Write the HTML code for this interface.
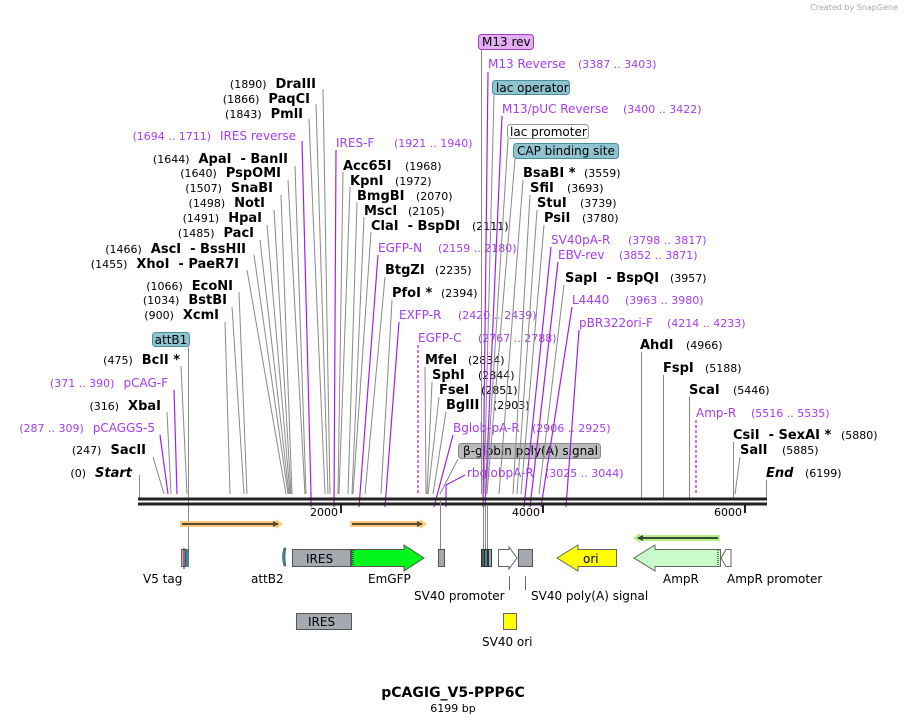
<!DOCTYPE html>
<html><head><meta charset="utf-8"><style>
body{margin:0;background:#fff}
svg{display:block;font-family:"DejaVu Sans","Liberation Sans",sans-serif}
.n{font-size:11px;fill:#000}
.b{font-size:13px;font-weight:bold;fill:#000}
.p{font-size:12px;fill:#a83cf0}
.pn{font-size:11px;fill:#a83cf0}
.g{stroke:#8a8a8a;stroke-width:1;fill:none}
.v{stroke:#a020f0;stroke-width:1.2;fill:none}
.f{font-size:12px;fill:#000}
</style></head><body>
<svg width="905" height="724" viewBox="0 0 905 724">
<text x="898" y="10" text-anchor="end" style="font-size:8px;fill:#aaa">Created by SnapGene</text>

<g>
<text x="316" y="88" text-anchor="end"><tspan class="n">(1890)</tspan><tspan class="b" dx="9">DraIII</tspan></text>
<line class="g" x1="323" y1="89" x2="330" y2="494"/>
<text x="310" y="103" text-anchor="end"><tspan class="n">(1866)</tspan><tspan class="b" dx="9">PaqCI</tspan></text>
<line class="g" x1="316" y1="104" x2="328" y2="494"/>
<text x="303" y="118" text-anchor="end"><tspan class="n">(1843)</tspan><tspan class="b" dx="9">PmlI</tspan></text>
<line class="g" x1="309" y1="119" x2="325" y2="494"/>
<text x="296" y="140" text-anchor="end"><tspan class="pn">(1694 .. 1711)</tspan><tspan class="p" dx="9">IRES reverse</tspan></text>
<line class="v" x1="302" y1="141" x2="311" y2="494"/><line class="v" x1="311" y1="494" x2="311" y2="507"/>
<text x="288" y="163" text-anchor="end"><tspan class="n">(1644)</tspan><tspan class="b" dx="9">ApaI</tspan><tspan class="b" dx="9">- BanII</tspan></text>
<line class="g" x1="295" y1="166" x2="306" y2="494"/>
<text x="281" y="177" text-anchor="end"><tspan class="n">(1640)</tspan><tspan class="b" dx="9">PspOMI</tspan></text>
<line class="g" x1="288" y1="180" x2="305" y2="494"/>
<text x="273" y="192" text-anchor="end"><tspan class="n">(1507)</tspan><tspan class="b" dx="9">SnaBI</tspan></text>
<line class="g" x1="281" y1="195" x2="292" y2="494"/>
<text x="265" y="207" text-anchor="end"><tspan class="n">(1498)</tspan><tspan class="b" dx="9">NotI</tspan></text>
<line class="g" x1="274" y1="210" x2="291" y2="494"/>
<text x="262" y="222" text-anchor="end"><tspan class="n">(1491)</tspan><tspan class="b" dx="9">HpaI</tspan></text>
<line class="g" x1="267" y1="225" x2="290" y2="494"/>
<text x="254" y="237" text-anchor="end"><tspan class="n">(1485)</tspan><tspan class="b" dx="9">PacI</tspan></text>
<line class="g" x1="260" y1="240" x2="289" y2="494"/>
<text x="246" y="253" text-anchor="end"><tspan class="n">(1466)</tspan><tspan class="b" dx="9">AscI</tspan><tspan class="b" dx="9">- BssHII</tspan></text>
<line class="g" x1="254" y1="255" x2="288" y2="494"/>
<text x="239" y="268" text-anchor="end"><tspan class="n">(1455)</tspan><tspan class="b" dx="9">XhoI</tspan><tspan class="b" dx="9">- PaeR7I</tspan></text>
<line class="g" x1="247" y1="270" x2="286" y2="494"/>
<text x="233" y="290" text-anchor="end"><tspan class="n">(1066)</tspan><tspan class="b" dx="9">EcoNI</tspan></text>
<line class="g" x1="239" y1="292" x2="247" y2="494"/>
<text x="227" y="304" text-anchor="end"><tspan class="n">(1034)</tspan><tspan class="b" dx="9">BstBI</tspan></text>
<line class="g" x1="232" y1="307" x2="244" y2="494"/>
<text x="219" y="319" text-anchor="end"><tspan class="n">(900)</tspan><tspan class="b" dx="9">XcmI</tspan></text>
<line class="g" x1="225" y1="322" x2="230" y2="494"/>
<rect x="152.5" y="332.5" width="37" height="14" rx="3" fill="#8fc3cf" stroke="#4a8fa0"/>
<text x="171" y="344" text-anchor="middle" class="f">attB1</text>
<line class="g" x1="188.5" y1="347" x2="188.5" y2="553" stroke="#666"/>
<text x="180" y="364" text-anchor="end"><tspan class="n">(475)</tspan><tspan class="b" dx="9">BclI *</tspan></text>
<line class="g" x1="181" y1="366" x2="187" y2="494"/>
<text x="168" y="387" text-anchor="end"><tspan class="pn">(371 .. 390)</tspan><tspan class="p" dx="9">pCAG-F</tspan></text>
<line class="v" x1="174" y1="390" x2="177" y2="494"/>
<text x="161" y="410" text-anchor="end"><tspan class="n">(316)</tspan><tspan class="b" dx="9">XbaI</tspan></text>
<line class="g" x1="167" y1="412" x2="171" y2="494"/>
<text x="155" y="432" text-anchor="end"><tspan class="pn">(287 .. 309)</tspan><tspan class="p" dx="9">pCAGGS-5</tspan></text>
<line class="v" x1="160" y1="435" x2="168" y2="494"/>
<text x="146" y="454" text-anchor="end"><tspan class="n">(247)</tspan><tspan class="b" dx="9">SacII</tspan></text>
<line class="g" x1="153" y1="457" x2="164" y2="494"/>
<text x="132" y="477" text-anchor="end"><tspan class="n">(0)</tspan><tspan class="b" dx="9" font-style="italic">Start</tspan></text>
<line class="g" x1="139.5" y1="475" x2="139.5" y2="498"/>
</g>

<g>
<text x="336" y="147" class="p">IRES-F</text><text x="394" y="147" class="pn">(1921 .. 1940)</text>
<line class="v" x1="336" y1="150" x2="334" y2="507"/>
<text x="343" y="170" class="b">Acc65I</text><text x="405" y="170" class="n">(1968)</text>
<line class="g" x1="343" y1="172" x2="338" y2="494"/>
<text x="350" y="185" class="b">KpnI</text><text x="395" y="185" class="n">(1972)</text>
<line class="g" x1="350" y1="187" x2="339" y2="494"/>
<text x="357" y="200" class="b">BmgBI</text><text x="416" y="200" class="n">(2070)</text>
<line class="g" x1="357" y1="202" x2="348" y2="494"/>
<text x="364" y="215" class="b">MscI</text><text x="408" y="215" class="n">(2105)</text>
<line class="g" x1="364" y1="217" x2="352" y2="494"/>
<text x="371" y="230" class="b">ClaI<tspan dx="9">- BspDI</tspan></text><text x="472" y="230" class="n">(2111)</text>
<line class="g" x1="371" y1="232" x2="353" y2="494"/>
<text x="378" y="252" class="p">EGFP-N</text><text x="438" y="252" class="pn">(2159 .. 2180)</text>
<line class="v" x1="378" y1="255" x2="359" y2="507"/>
<text x="385" y="274" class="b">BtgZI</text><text x="435" y="274" class="n">(2235)</text>
<line class="g" x1="385" y1="277" x2="365" y2="494"/>
<text x="392" y="297" class="b">PfoI *</text><text x="441" y="297" class="n">(2394)</text>
<line class="g" x1="392" y1="300" x2="381" y2="494"/>
<text x="399" y="319" class="p">EXFP-R</text><text x="458" y="319" class="pn">(2420 .. 2439)</text>
<line class="v" x1="399" y1="322" x2="385" y2="507"/>
<text x="418" y="342" class="p">EGFP-C</text><text x="478" y="342" class="pn">(2767 .. 2788)</text>
<line class="v" x1="418" y1="345" x2="418" y2="494" stroke-dasharray="3,2"/>
<text x="425" y="364" class="b">MfeI</text><text x="468" y="364" class="n">(2834)</text>
<line class="g" x1="425" y1="367" x2="426" y2="494"/>
<text x="432" y="379" class="b">SphI</text><text x="478" y="379" class="n">(2844)</text>
<line class="g" x1="432" y1="382" x2="427" y2="494"/>
<text x="439" y="394" class="b">FseI</text><text x="481" y="394" class="n">(2851)</text>
<line class="g" x1="439" y1="397" x2="428" y2="494"/>
<text x="446" y="409" class="b">BglII</text><text x="493" y="409" class="n">(2903)</text>
<line class="g" x1="446" y1="412" x2="433" y2="494"/>
<text x="453" y="432" class="p">Bglob-pA-R</text><text x="532" y="432" class="pn">(2906 .. 2925)</text>
<line class="v" x1="453" y1="435" x2="434" y2="507"/>
<rect x="458.5" y="443.5" width="142" height="15" rx="3" fill="#bbbbbb" stroke="#888"/>
<text x="463" y="455" class="f">β-globin poly(A) signal</text>
<line class="g" x1="458" y1="459" x2="440" y2="494"/>
<text x="467" y="477" class="p">rbglobpA-R</text><text x="545" y="477" class="pn">(3025 .. 3044)</text>
<line class="v" x1="465" y1="475" x2="446" y2="485"/><line class="v" x1="446" y1="485" x2="446" y2="507"/>

<rect x="478.5" y="34.5" width="55" height="15" rx="3" fill="#e3aef3" stroke="#a040c0"/>
<text x="482" y="46" class="f">M13 rev</text>
<line class="g" x1="481.5" y1="50" x2="481.5" y2="494"/>
<text x="488" y="68" class="p">M13 Reverse</text><text x="578" y="68" class="pn">(3387 .. 3403)</text>
<line class="v" x1="488" y1="72" x2="483" y2="507"/>
<rect x="492.5" y="80.5" width="77" height="14" rx="3" fill="#8fc3cf" stroke="#4a8fa0"/>
<text x="496" y="92" class="f">lac operator</text>
<line class="g" x1="494" y1="95" x2="484" y2="494"/>
<text x="502" y="113" class="p">M13/pUC Reverse</text><text x="623" y="113" class="pn">(3400 .. 3422)</text>
<line class="v" x1="502" y1="116" x2="485" y2="507"/>
<rect x="507.5" y="124.5" width="81" height="14" rx="3" fill="#fff" stroke="#999"/>
<text x="510" y="136" class="f">lac promoter</text>
<line class="g" x1="508" y1="139" x2="486" y2="494"/>
<rect x="513.5" y="143.5" width="105" height="15" rx="3" fill="#8fc3cf" stroke="#4a8fa0"/>
<text x="517" y="155" class="f">CAP binding site</text>
<line class="g" x1="515" y1="159" x2="487" y2="494"/>
<text x="523" y="177" class="b">BsaBI *</text><text x="584" y="177" class="n">(3559)</text>
<line class="g" x1="523" y1="180" x2="499" y2="494"/>
<text x="530" y="192" class="b">SfiI</text><text x="567" y="192" class="n">(3693)</text>
<line class="g" x1="530" y1="195" x2="513" y2="494"/>
<text x="537" y="207" class="b">StuI</text><text x="580" y="207" class="n">(3739)</text>
<line class="g" x1="537" y1="210" x2="517" y2="494"/>
<text x="544" y="222" class="b">PsiI</text><text x="582" y="222" class="n">(3780)</text>
<line class="g" x1="544" y1="225" x2="521" y2="494"/>
<text x="551" y="244" class="p">SV40pA-R</text><text x="628" y="244" class="pn">(3798 .. 3817)</text>
<line class="v" x1="551" y1="247" x2="524" y2="507"/>
<text x="558" y="259" class="p">EBV-rev</text><text x="619" y="259" class="pn">(3852 .. 3871)</text>
<line class="v" x1="558" y1="262" x2="530" y2="507"/>
<text x="565" y="282" class="b">SapI<tspan dx="9">- BspQI</tspan></text><text x="670" y="282" class="n">(3957)</text>
<line class="g" x1="564" y1="285" x2="539" y2="494"/>
<text x="572" y="304" class="p">L4440</text><text x="625" y="304" class="pn">(3963 .. 3980)</text>
<line class="v" x1="572" y1="307" x2="541" y2="507"/>
<text x="579" y="327" class="p">pBR322ori-F</text><text x="667" y="327" class="pn">(4214 .. 4233)</text>
<line class="v" x1="579" y1="330" x2="566" y2="507"/>
<text x="640" y="349" class="b">AhdI</text><text x="686" y="349" class="n">(4966)</text>
<line class="g" x1="641.5" y1="352" x2="641.5" y2="498"/>
<text x="663" y="372" class="b">FspI</text><text x="705" y="372" class="n">(5188)</text>
<line class="g" x1="663.5" y1="375" x2="663.5" y2="498"/>
<text x="689" y="394" class="b">ScaI</text><text x="733" y="394" class="n">(5446)</text>
<line class="g" x1="689.5" y1="397" x2="689.5" y2="498"/>
<text x="696" y="417" class="p">Amp-R</text><text x="751" y="417" class="pn">(5516 .. 5535)</text>
<line class="v" x1="696" y1="420" x2="696" y2="494" stroke-dasharray="3,2"/>
<text x="733" y="439" class="b">CsiI<tspan dx="9">- SexAI *</tspan></text><text x="841" y="439" class="n">(5880)</text>
<line class="g" x1="733.5" y1="442" x2="733.5" y2="498"/>
<text x="740" y="454" class="b">SalI</text><text x="782" y="454" class="n">(5885)</text>
<line class="g" x1="740" y1="457" x2="735" y2="494"/>
<text x="766" y="477" class="b" font-style="italic">End</text><text x="805" y="477" class="n">(6199)</text>
<line class="g" x1="766.5" y1="480" x2="766.5" y2="498"/>
</g>

<rect x="138" y="497.5" width="629" height="3" fill="#222"/>
<rect x="138" y="502.5" width="629" height="3" fill="#222"/>
<rect x="340" y="505" width="2" height="8" fill="#222"/>
<rect x="542" y="505" width="2" height="8" fill="#222"/>
<rect x="744" y="505" width="2" height="8" fill="#222"/>
<text x="310" y="516" class="n">2000</text>
<text x="512" y="516" class="n">4000</text>
<text x="714" y="516" class="n">6000</text>

<rect x="180" y="521" width="98" height="6" fill="#fcc97a"/>
<path d="M276 519 L283 524 L276 529Z" fill="#fcc97a"/>
<line x1="182" y1="524" x2="278" y2="524" stroke="#5a4a30" stroke-width="2"/>
<path d="M273 521 L279 524 L273 527Z" fill="#5a4a30"/>
<rect x="350" y="521" width="72" height="6" fill="#fcc97a"/>
<path d="M420 519 L427 524 L420 529Z" fill="#fcc97a"/>
<line x1="352" y1="524" x2="422" y2="524" stroke="#5a4a30" stroke-width="2"/>
<path d="M417 521 L423 524 L417 527Z" fill="#5a4a30"/>
<rect x="638" y="535" width="82" height="6" fill="#b6ee8c"/>
<path d="M640 533 L633 538 L640 543Z" fill="#b6ee8c"/>
<line x1="638" y1="538" x2="718" y2="538" stroke="#3a4a30" stroke-width="2"/>
<path d="M643 535 L637 538 L643 541Z" fill="#3a4a30"/>

<rect x="181.5" y="549.5" width="4" height="17" fill="#d8a6c0" stroke="#666"/>
<rect x="185.5" y="549.5" width="3" height="17" fill="#3a8aa0" stroke="#333" stroke-width="0.5"/>
<line x1="184" y1="548" x2="184" y2="569" stroke="#333"/>
<path d="M284 548 Q281 557 284 566 L286 566 Q284 557 286 548Z" fill="#3a8aa0" stroke="#333" stroke-width="0.5"/>
<rect x="292.5" y="549.5" width="58" height="17" fill="#a5a9b0" stroke="#555"/>
<text x="306" y="563" class="f">IRES</text>
<path d="M351.5 549.5 H404 V545 L424 558 L404 571 V566.5 H351.5Z" fill="#00f51a" stroke="#555"/>
<line x1="353" y1="550" x2="353" y2="566" stroke="#000" stroke-dasharray="1,1"/>
<rect x="438.5" y="549.5" width="6" height="17" fill="#a5a9b0" stroke="#555"/>
<line x1="440.5" y1="500" x2="440.5" y2="549" stroke="#888"/>
<rect x="481.5" y="549.5" width="3" height="17" fill="#555" stroke="#333"/>
<rect x="484.5" y="549.5" width="3" height="17" fill="#3a8aa0" stroke="#333"/>
<rect x="488.5" y="549.5" width="3" height="17" fill="#a5a9b0" stroke="#333"/>
<line x1="483.5" y1="505" x2="483.5" y2="549" stroke="#888"/>
<line x1="485.5" y1="505" x2="485.5" y2="549" stroke="#888"/>
<line x1="487.5" y1="505" x2="487.5" y2="549" stroke="#888"/>
<path d="M498.5 549.5 H509 V547 L517 558 L509 569 V566.5 H498.5Z" fill="#fff" stroke="#666"/>
<rect x="518.5" y="549.5" width="14" height="17" fill="#a5a9b0" stroke="#555"/>
<line x1="509.5" y1="576" x2="509.5" y2="590" stroke="#666"/>
<line x1="525.5" y1="576" x2="525.5" y2="590" stroke="#666"/>
<path d="M616.5 549.5 H578 V545 L557 558 L578 571 V566.5 H616.5Z" fill="#ffff00" stroke="#666"/>
<text x="583" y="563" class="f">ori</text>
<path d="M720.5 549.5 H655 V545 L634 558 L655 571 V566.5 H720.5Z" fill="#c8fcc8" stroke="#666"/>
<line x1="718" y1="550" x2="718" y2="566" stroke="#000" stroke-dasharray="1,1"/>
<path d="M731 549.5 H726 L721 558 L726 566.5 H731 Z" fill="#fff" stroke="#666"/>

<text x="143" y="583" class="f">V5 tag</text>
<text x="251" y="583" class="f">attB2</text>
<text x="368" y="583" class="f">EmGFP</text>
<text x="663" y="583" class="f">AmpR</text>
<text x="727" y="583" class="f">AmpR promoter</text>
<text x="414" y="600" class="f">SV40 promoter</text>
<text x="531" y="600" class="f">SV40 poly(A) signal</text>
<rect x="296.5" y="613.5" width="55" height="16" fill="#a5a9b0" stroke="#555"/>
<text x="308" y="626" class="f">IRES</text>
<rect x="503.5" y="613.5" width="13" height="16" fill="#ffff00" stroke="#666"/>
<text x="482" y="646" class="f">SV40 ori</text>

<text x="453" y="697" text-anchor="middle" style="font-size:14px;font-weight:bold">pCAGIG_V5-PPP6C</text>
<text x="453" y="712" text-anchor="middle" style="font-size:11px">6199 bp</text>
</svg>
</body></html>
